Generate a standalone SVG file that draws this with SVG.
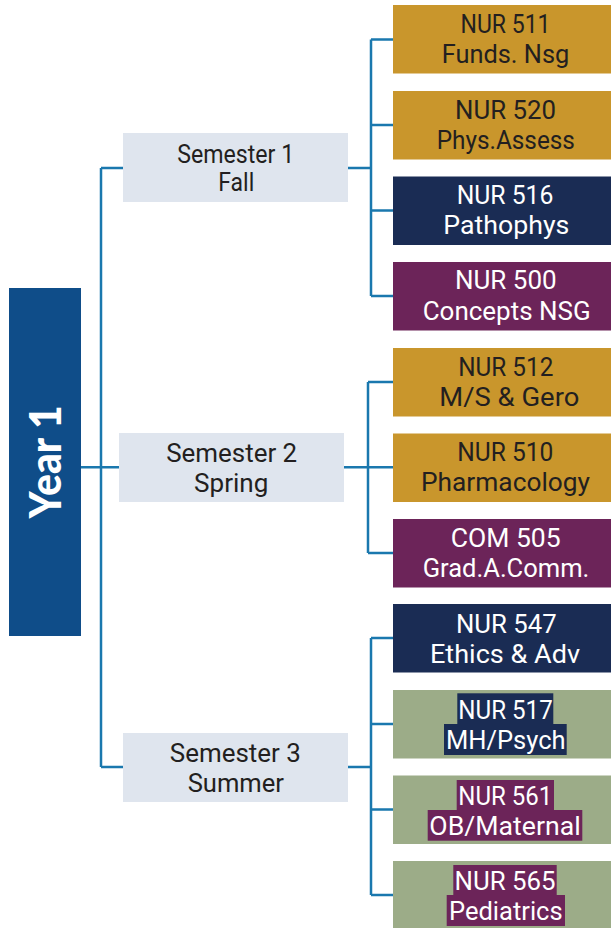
<svg xmlns="http://www.w3.org/2000/svg" width="611" height="928" viewBox="0 0 611 928">
<style>
.conn{fill:none;stroke:#1a78ae;stroke-width:2.5}
.sem{fill:#dfe5ee}
.gold{fill:#c9962c}
.navy{fill:#1a2c54}
.purp{fill:#6c2459}
.green{fill:#9cac88}
.t{font-family:Roboto,"Liberation Sans",sans-serif;font-size:25px;text-anchor:middle}
.dk{fill:#231f20}
.wh{fill:#ffffff}
.st{font-family:Roboto,"Liberation Sans",sans-serif;font-size:25px;text-anchor:middle;fill:#231f20}
</style>
<rect width="611" height="928" fill="#ffffff"/>
<g id="connectors">
<path class="conn" d="M78 467.3H119M101 168V767M101 168H123M101 767H123"/>
<path class="conn" d="M348 168H371M371 39.5V296M371 39.5H393M371 125H393M371 210.5H393M371 296H393"/>
<path class="conn" d="M344 467.3H368M368 382V553M368 382H393M368 467.3H393M368 553H393"/>
<path class="conn" d="M348 767H371M371 638V895M371 638H393M371 724H393M371 809.5H393M371 895H393"/>
</g>
<g id="year1">
<rect x="9" y="288" width="72" height="348" fill="#0f4d89"/>
<text transform="translate(61 461.7) rotate(-90)" x="0" y="0" text-anchor="middle" font-family="Lato,'Open Sans',sans-serif" font-weight="900" font-size="43" fill="#ffffff" textLength="113" lengthAdjust="spacingAndGlyphs">Year 1</text>
</g>
<g id="sem1">
<rect class="sem" x="123" y="133" width="225" height="69"/>
<text class="st" x="235.7" y="163.3" textLength="117" lengthAdjust="spacingAndGlyphs" font-size="23">Semester 1</text>
<text class="st" x="236.3" y="190.7" textLength="36" lengthAdjust="spacingAndGlyphs" font-size="23">Fall</text>
</g>
<g id="sem2">
<rect class="sem" x="119" y="433" width="225" height="69"/>
<text class="st" x="231.7" y="461.7" textLength="131" lengthAdjust="spacingAndGlyphs">Semester 2</text>
<text class="st" x="231.2" y="491.7" textLength="74.3" lengthAdjust="spacingAndGlyphs">Spring</text>
</g>
<g id="sem3">
<rect class="sem" x="123" y="733" width="225" height="69"/>
<text class="st" x="235.3" y="761.7" textLength="131" lengthAdjust="spacingAndGlyphs">Semester 3</text>
<text class="st" x="235.8" y="791.7" textLength="96.3" lengthAdjust="spacingAndGlyphs">Summer</text>
</g>
<g id="nur511">
<rect class="gold" x="393" y="5" width="218" height="68.5"/>
<text class="t dk" x="505.5" y="33.3" textLength="90" lengthAdjust="spacingAndGlyphs">NUR 511</text>
<text class="t dk" x="505.5" y="63.3" textLength="127.7" lengthAdjust="spacingAndGlyphs">Funds. Nsg</text>
</g>
<g id="nur520">
<rect class="gold" x="393" y="91" width="218" height="68.5"/>
<text class="t dk" x="505.5" y="119" textLength="101" lengthAdjust="spacingAndGlyphs">NUR 520</text>
<text class="t dk" x="505.8" y="148.5" textLength="138.3" lengthAdjust="spacingAndGlyphs">Phys.Assess</text>
</g>
<g id="nur516">
<rect class="navy" x="393" y="176.5" width="218" height="68.5"/>
<text class="t wh" x="505" y="204" textLength="96.7" lengthAdjust="spacingAndGlyphs">NUR 516</text>
<text class="t wh" x="506.3" y="233.5" textLength="126" lengthAdjust="spacingAndGlyphs">Pathophys</text>
</g>
<g id="nur500">
<rect class="purp" x="393" y="262" width="218" height="68.5"/>
<text class="t wh" x="505.8" y="289" textLength="101.7" lengthAdjust="spacingAndGlyphs">NUR 500</text>
<text class="t wh" x="506.7" y="320" textLength="168" lengthAdjust="spacingAndGlyphs">Concepts NSG</text>
</g>
<g id="nur512">
<rect class="gold" x="393" y="348" width="218" height="68.5"/>
<text class="t dk" x="505.8" y="375.7" textLength="95" lengthAdjust="spacingAndGlyphs">NUR 512</text>
<text class="t dk" x="509.3" y="405.5" textLength="140" lengthAdjust="spacingAndGlyphs">M/S &amp; Gero</text>
</g>
<g id="nur510">
<rect class="gold" x="393" y="433.5" width="218" height="68.5"/>
<text class="t dk" x="505.3" y="460.7" textLength="96" lengthAdjust="spacingAndGlyphs">NUR 510</text>
<text class="t dk" x="505.5" y="490.5" textLength="169" lengthAdjust="spacingAndGlyphs">Pharmacology</text>
</g>
<g id="com505">
<rect class="purp" x="393" y="519" width="218" height="68.5"/>
<text class="t wh" x="505.7" y="546.5" textLength="110" lengthAdjust="spacingAndGlyphs">COM 505</text>
<text class="t wh" x="506" y="576.5" textLength="166.7" lengthAdjust="spacingAndGlyphs">Grad.A.Comm.</text>
</g>
<g id="nur547">
<rect class="navy" x="393" y="604" width="218" height="68.5"/>
<text class="t wh" x="506.3" y="633.3" textLength="100.7" lengthAdjust="spacingAndGlyphs">NUR 547</text>
<text class="t wh" x="505" y="663.3" textLength="150" lengthAdjust="spacingAndGlyphs">Ethics &amp; Adv</text>
</g>
<g id="nur517">
<rect class="green" x="393" y="690" width="218" height="68.5"/>
<rect class="navy" x="457.3" y="693.3" width="96" height="31"/>
<rect class="navy" x="444" y="724" width="122.7" height="31"/>
<text class="t wh" x="505.5" y="719" textLength="94.4" lengthAdjust="spacingAndGlyphs">NUR 517</text>
<text class="t wh" x="505.8" y="748.5" textLength="119.7" lengthAdjust="spacingAndGlyphs">MH/Psych</text>
</g>
<g id="nur561">
<rect class="green" x="393" y="775.5" width="218" height="68.5"/>
<rect class="purp" x="456.7" y="780" width="97.3" height="30"/>
<rect class="purp" x="427.7" y="810" width="154.6" height="30.7"/>
<text class="t wh" x="505.3" y="805" textLength="94" lengthAdjust="spacingAndGlyphs">NUR 561</text>
<text class="t wh" x="505" y="834.5" textLength="151.3" lengthAdjust="spacingAndGlyphs">OB/Maternal</text>
</g>
<g id="nur565">
<rect class="green" x="393" y="861" width="218" height="67"/>
<rect class="purp" x="453.3" y="865" width="103.4" height="30"/>
<rect class="purp" x="446.7" y="895" width="118.3" height="31"/>
<text class="t wh" x="505" y="890" textLength="101" lengthAdjust="spacingAndGlyphs">NUR 565</text>
<text class="t wh" x="505.8" y="919.5" textLength="113.7" lengthAdjust="spacingAndGlyphs">Pediatrics</text>
</g>
</svg>
